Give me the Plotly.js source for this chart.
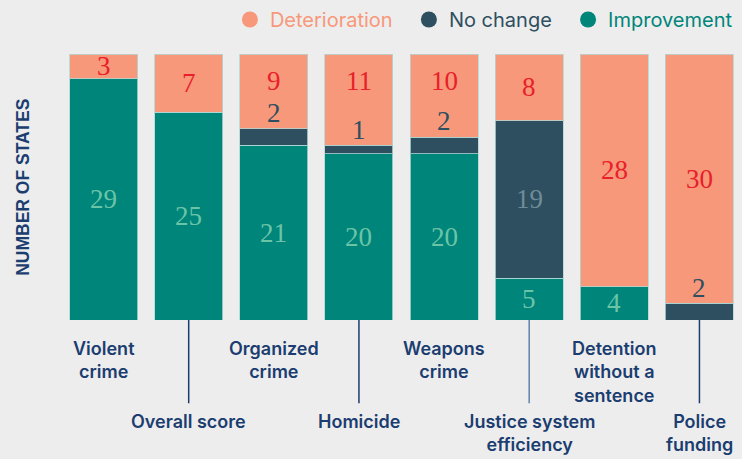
<!DOCTYPE html>
<html>
<head>
<meta charset="utf-8">
<script src="https://cdn.plot.ly/plotly-3.0.1.min.js"></script>
<style>html,body{margin:0;padding:0;background:#ededed;}#chart{width:742px;height:459px;}</style>
</head>
<body>
<div id="chart"></div>
<script>
const categories = ["Violent crime", "Overall score", "Organized crime", "Homicide", "Weapons crime", "Justice system efficiency", "Detention without a sentence", "Police funding"];
const labelLines = [["Violent", "crime"], ["Overall score"], ["Organized", "crime"], ["Homicide"], ["Weapons", "crime"], ["Justice system", "efficiency"], ["Detention", "without a", "sentence"], ["Police", "funding"]];
const improvement = [29, 25, 21, 20, 20, 5, 4, 0];
const noChange = [0, 0, 2, 1, 2, 19, 0, 2];
const deterioration = [3, 7, 9, 11, 10, 8, 28, 30];
const seriesNames = ["Deterioration", "No change", "Improvement"];

const C_DET = "#f8987a", C_NC = "#2e4f5f", C_IMP = "#00857b";
const T_DET = "#e8202a", T_NC = "#2e4f5f", T_NC_IN = "#6f8c99", T_IMP = "#6cc4a6";
const NAVY = "#1b3d70";
const numFont = "Liberation Serif, DejaVu Serif, serif";
const NUM_SIZE = 27;
const lineStyle = {color: "rgba(175,215,212,0.8)", width: 1};

const bar = (y, color, name) => ({
  type: "bar", x: categories, y: y, name: name, marker: {color: color, line: lineStyle},
  showlegend: false, hoverinfo: "skip"
});

const legendEntry = (name, color, pad) => ({
  type: "scatter", mode: "markers", x: [null], y: [null], marker: {color: color, size: 17},
  name: '<span style="color:' + color + '">' + name + '</span>' + pad
});

const traces = [
  bar(improvement, C_IMP, seriesNames[2]),
  bar(noChange, C_NC, seriesNames[1]),
  bar(deterioration, C_DET, seriesNames[0]),
  legendEntry(seriesNames[0], C_DET, "\u00a0\u00a0"),
  legendEntry(seriesNames[1], C_NC, "\u00a0\u00a0"),
  legendEntry(seriesNames[2], C_IMP, "")
];

const annotations = [];
const shapes = [];
categories.forEach((c, i) => {
  const imp = improvement[i], nc = noChange[i], det = deterioration[i];
  const total = imp + nc + det;
  const smallNc = nc > 0 && nc <= 2;
  if (imp > 0) annotations.push({x: c, y: imp / 2, text: String(imp), showarrow: false, font: {family: numFont, size: NUM_SIZE, color: T_IMP}});
  if (nc > 0) {
    if (smallNc) annotations.push({x: c, y: imp + nc + 1.9, text: String(nc), showarrow: false, font: {family: numFont, size: NUM_SIZE, color: T_NC}});
    else annotations.push({x: c, y: imp + nc / 2, text: String(nc), showarrow: false, font: {family: numFont, size: NUM_SIZE, color: T_NC_IN}});
  }
  const detY = (smallNc && det < 20) ? total - 3.2 : imp + nc + det / 2;
  annotations.push({x: c, y: detY, text: String(det), showarrow: false, font: {family: numFont, size: NUM_SIZE, color: T_DET}});

  const lower = i % 2 === 1;
  const lines = labelLines[i];
  annotations.push({
    x: c, xref: "x", yref: "paper", y: lower ? -0.333 : -0.062, yanchor: "top", showarrow: false,
    text: lines.join("<br>"), align: "center",
    font: {family: "Inter, Roboto, sans-serif", size: 18, weight: 600, color: NAVY}
  });
  if (lower) {
    shapes.push({type: "line", xref: "x", yref: "paper", x0: c, x1: c, y0: 0, y1: -0.313,
      line: {color: i === 5 ? "#5f82aa" : NAVY, width: 1.5}});
  }
});

annotations.push({
  xref: "paper", yref: "paper", x: -0.056, y: 0.5, xanchor: "center", yanchor: "middle",
  text: "NUMBER OF STATES", textangle: -90, showarrow: false,
  font: {family: "Liberation Sans, Arial, sans-serif", size: 17.5, weight: 700, color: NAVY}
});

const layout = {
  width: 742, height: 459,
  paper_bgcolor: "#ededed", plot_bgcolor: "#ededed",
  margin: {l: 61, r: 0, t: 54, b: 139},
  barmode: "stack", bargap: 0.2,
  xaxis: {showticklabels: false, showgrid: false, zeroline: false, showline: false, ticks: ""},
  yaxis: {range: [0, 32], showticklabels: false, showgrid: false, zeroline: false, showline: false, ticks: ""},
  showlegend: true,
  legend: {orientation: "h", traceorder: "normal", x: 0.994, xanchor: "right", y: 1.205, yanchor: "top", bgcolor: "rgba(0,0,0,0)",
    font: {family: "Inter, Roboto, sans-serif", size: 20}, itemclick: false, itemdoubleclick: false},
  annotations: annotations,
  shapes: shapes
};

Plotly.newPlot("chart", traces, layout, {displayModeBar: false, staticPlot: true});
</script>
</body>
</html>
